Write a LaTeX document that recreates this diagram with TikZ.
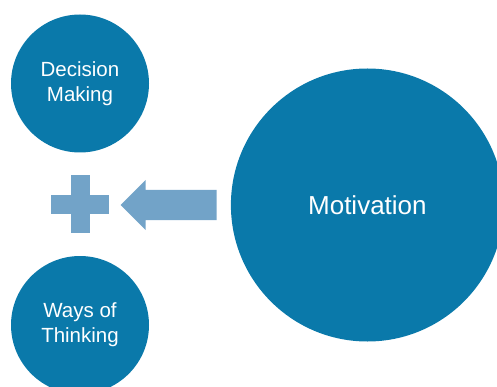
\documentclass[tikz,border=0pt]{standalone}
\usepackage{fontspec}
\setmainfont{Liberation Sans}
\definecolor{circblue}{HTML}{0A79AA}
\definecolor{lightblue}{HTML}{72A3C8}

\begin{document}
\begin{tikzpicture}[x=1pt, y=-1pt,
  every node/.style={text=white, align=center},
  bubble/.style={circle, fill=circblue, inner sep=0pt, minimum size=138pt,
    font=\fontsize{20.5}{25}\selectfont},
  bigbubble/.style={bubble, minimum size=273pt, font=\fontsize{26}{30}\selectfont}]
\useasboundingbox (0,0) rectangle (497,387);
\clip (0,0) rectangle (497,387);
\node[bubble] (dm) at (80,83.5) {Decision\\Making};
\node[bubble] (wt) at (80,325) {Ways of\\Thinking};
\node[bigbubble] (mot) at (367.4,205) {Motivation};
% plus sign between the two small circles
\fill[lightblue] (71,175) rectangle (90,233);
\fill[lightblue] (51,195) rectangle (109,214);
% arrow from Motivation towards the plus
\fill[lightblue] (216.7,190) -- (145.7,190) -- (145.7,180) -- (120.7,205)
  -- (145.7,230) -- (145.7,220) -- (216.7,220) -- cycle;
\end{tikzpicture}
\end{document}
